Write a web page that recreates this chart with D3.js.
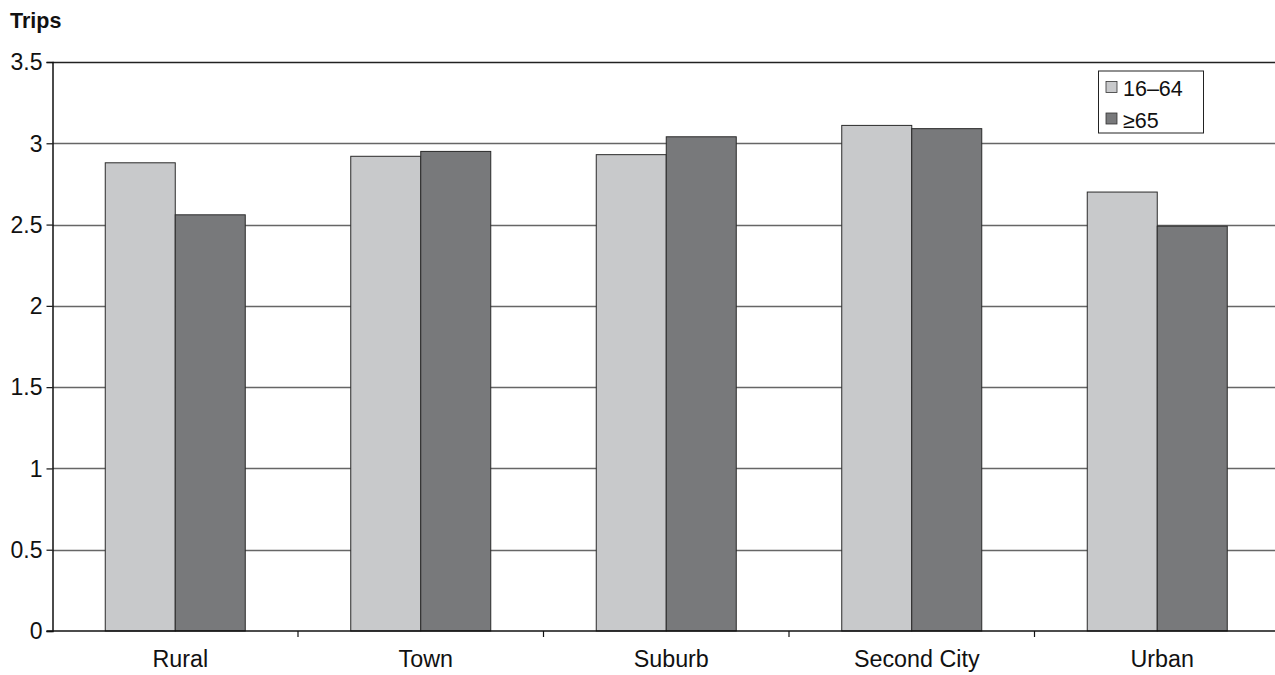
<!DOCTYPE html>
<html>
<head>
<meta charset="utf-8">
<script src="https://cdn.jsdelivr.net/npm/d3@7"></script>
<style>
  html, body { margin: 0; padding: 0; background: #fff; }
  svg { display: block; font-family: "Liberation Sans", Arial, sans-serif; }
</style>
</head>
<body>
<svg id="chart" width="1275" height="675"></svg>
<script>
// Average daily trips per person by settlement type and age group
const categories = ["Rural", "Town", "Suburb", "Second City", "Urban"];
const seriesNames = ["16–64", "≥65"];
const workingAge = [2.88, 2.92, 2.93, 3.11, 2.70];
const older = [2.56, 2.95, 3.04, 3.09, 2.49];
const yTicks = [0, 0.5, 1, 1.5, 2, 2.5, 3, 3.5];
const yTickLabels = ["0", "0.5", "1", "1.5", "2", "2.5", "3", "3.5"];

const fills = ["#c8c9cb", "#78797b"];
const FONT = "Liberation Sans, Arial, sans-serif";

const svg = d3.select("#chart");
const x0 = 52.5, x1 = 1280;
const yBottom = 631, yTop = 62;

const x = d3.scaleBand().domain(categories).range([x0, x1]).padding(0);
// each pair of bars fills 57% of its category band, centred
const groupFrac = 140 / 245.5;
const xs = d3.scaleBand().domain(seriesNames)
  .range([x.bandwidth() * (1 - groupFrac) / 2, x.bandwidth() * (1 + groupFrac) / 2])
  .padding(0);
const y = d3.scaleLinear().domain([0, 3.5]).range([yBottom, yTop]);

// Horizontal gridlines
svg.append("g").selectAll("line")
  .data(yTicks.filter(d => d > 0))
  .join("line")
  .attr("x1", x0).attr("x2", x1)
  .attr("y1", d => Math.round(y(d)) + 0.5).attr("y2", d => Math.round(y(d)) + 0.5)
  .attr("stroke", d => d === 3.5 ? "#222" : "#666")
  .attr("stroke-width", 1.5);

// Bars
const data = categories.map((c, i) => ({ cat: c, vals: [workingAge[i], older[i]] }));
const groups = svg.append("g").selectAll("g")
  .data(data).join("g")
  .attr("transform", d => `translate(${x(d.cat)},0)`);
groups.selectAll("rect")
  .data(d => d.vals.map((v, j) => ({ v, s: seriesNames[j], j })))
  .join("rect")
  .attr("x", d => xs(d.s))
  .attr("y", d => y(d.v))
  .attr("width", xs.bandwidth())
  .attr("height", d => y(0) - y(d.v))
  .attr("fill", d => fills[d.j])
  .attr("stroke", "#2a2a2a")
  .attr("stroke-width", 1);

// Y axis
const yAxis = d3.axisLeft(y).tickValues(yTicks)
  .tickFormat((d, i) => yTickLabels[i]).tickSize(6).tickPadding(4);
const gy = svg.append("g").attr("transform", `translate(${x0},0)`).call(yAxis);
gy.attr("font-size", null).attr("font-family", null);
gy.select(".domain").attr("stroke", "#111").attr("stroke-width", 1.5);
gy.selectAll(".tick line").attr("stroke", "#111").attr("stroke-width", 1.2);
gy.selectAll(".tick text").attr("font-size", 23).attr("fill", "#111")
  .attr("font-family", FONT).attr("dy", "0.34em");

// X axis with ticks between categories
const gx = svg.append("g").attr("transform", `translate(0,${yBottom})`);
gx.append("line").attr("x1", x0 - 6).attr("x2", x1).attr("y1", 0).attr("y2", 0)
  .attr("stroke", "#111").attr("stroke-width", 1.5);
gx.selectAll("line.sep")
  .data(categories.slice(1))
  .join("line").attr("class", "sep")
  .attr("x1", d => x(d)).attr("x2", d => x(d))
  .attr("y1", 0).attr("y2", 6)
  .attr("stroke", "#111").attr("stroke-width", 1.2);
gx.selectAll("text")
  .data(categories).join("text")
  .attr("x", d => x(d) + x.bandwidth() / 2 + 5)
  .attr("y", 36)
  .attr("text-anchor", "middle")
  .attr("font-size", 23.3)
  .attr("font-family", FONT)
  .attr("fill", "#111")
  .text(d => d);

// Axis title
svg.append("text").attr("x", 10).attr("y", 28)
  .attr("font-size", 21.5).attr("font-weight", "bold").attr("fill", "#111")
  .attr("font-family", FONT)
  .text("Trips");

// Legend
const lg = svg.append("g").attr("transform", "translate(1098.5,71)");
lg.append("rect").attr("width", 105).attr("height", 62)
  .attr("fill", "#fff").attr("stroke", "#222").attr("stroke-width", 1);
const items = lg.selectAll("g.item").data(seriesNames).join("g").attr("class", "item")
  .attr("transform", (d, i) => `translate(7.5,${10.5 + i * 31.5})`);
items.append("rect").attr("x", 0).attr("y", 0).attr("width", 11).attr("height", 11)
  .attr("fill", (d, i) => fills[i]).attr("stroke", "#333").attr("stroke-width", 0.8);
items.append("text").attr("x", 17).attr("y", 14.5)
  .attr("font-size", 21.5).attr("font-family", FONT).attr("fill", "#111").text(d => d);
</script>
</body>
</html>
